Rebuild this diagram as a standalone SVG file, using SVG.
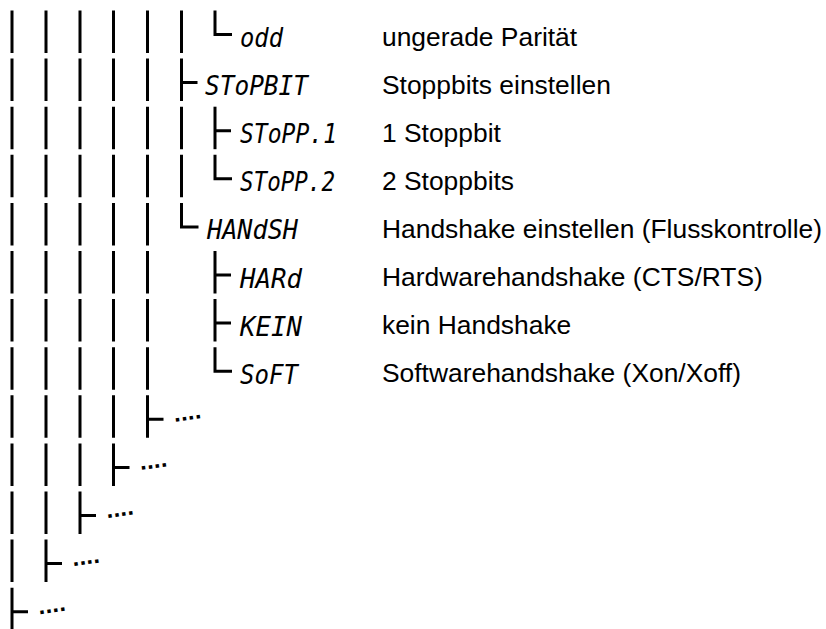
<svg xmlns="http://www.w3.org/2000/svg" width="826" height="629" viewBox="0 0 826 629">
<style>
.ln{stroke:#000;stroke-width:3;fill:none;stroke-linecap:butt;stroke-linejoin:miter}
.col{stroke-dasharray:42.5 5.6}
.seg{font-family:"DejaVu Sans Mono",monospace;font-style:oblique;font-size:27px;fill:#000}
.desc{font-family:"Liberation Sans",Arial,sans-serif;font-size:26.4px;fill:#000}
.dots{font-family:"Liberation Sans",Arial,sans-serif;font-weight:bold;font-size:24px;letter-spacing:0.3px;fill:#000}
</style>
<rect width="826" height="629" fill="#fff"/>
<g id="connectors">
<line class="ln col" x1="12" y1="10.5" x2="12" y2="630.2"/>
<line class="ln col" x1="46" y1="10.5" x2="46" y2="582.1"/>
<line class="ln col" x1="80" y1="10.5" x2="80" y2="534"/>
<line class="ln col" x1="113.5" y1="10.5" x2="113.5" y2="485.9"/>
<line class="ln col" x1="147.5" y1="10.5" x2="147.5" y2="437.8"/>
<line class="ln col" x1="181.5" y1="10.5" x2="181.5" y2="197.3"/>
<path class="ln" d="M181.5 202.9V226.9H198.5"/>
<path class="ln" d="M215 10.5V34.5H232"/>
<path class="ln" d="M215 106.7V149.2"/>
<path class="ln" d="M215 154.8V178.8H232"/>
<path class="ln" d="M215 251V293.5M215 299.1V341.6"/>
<path class="ln" d="M215 347.2V371.2H232"/>
<path class="ln" d="M181.5 82.6H197.5M215 130.7H231M215 275H231M215 323.1H231M147.5 419.3H163.5M113.5 467.4H129.5M80 515.5H96M46 563.6H62M12 611.7H28"/>
</g>
<g id="node-odd"><text class="seg" x="240" y="47" textLength="43" lengthAdjust="spacingAndGlyphs">odd</text><text class="desc" x="382" y="45.5">ungerade Parität</text></g>
<g id="node-stopbit"><text class="seg" x="205" y="95.1" textLength="103" lengthAdjust="spacingAndGlyphs">SToPBIT</text><text class="desc" x="382" y="93.6">Stoppbits einstellen</text></g>
<g id="node-stopp1"><text class="seg" x="240" y="143.2" textLength="97" lengthAdjust="spacingAndGlyphs">SToPP.1</text><text class="desc" x="382" y="141.7">1 Stoppbit</text></g>
<g id="node-stopp2"><text class="seg" x="240" y="191.3" textLength="95" lengthAdjust="spacingAndGlyphs">SToPP.2</text><text class="desc" x="382" y="189.8">2 Stoppbits</text></g>
<g id="node-handsh"><text class="seg" x="207" y="239.4" textLength="91" lengthAdjust="spacingAndGlyphs">HANdSH</text><text class="desc" x="382" y="237.9">Handshake einstellen (Flusskontrolle)</text></g>
<g id="node-hard"><text class="seg" x="240" y="287.5" textLength="62" lengthAdjust="spacingAndGlyphs">HARd</text><text class="desc" x="382" y="286">Hardwarehandshake (CTS/RTS)</text></g>
<g id="node-kein"><text class="seg" x="240" y="335.6" textLength="62" lengthAdjust="spacingAndGlyphs">KEIN</text><text class="desc" x="382" y="334.1">kein Handshake</text></g>
<g id="node-soft"><text class="seg" x="240" y="383.7" textLength="58" lengthAdjust="spacingAndGlyphs">SoFT</text><text class="desc" x="382" y="382.2">Softwarehandshake (Xon/Xoff)</text></g>
<g id="node-more4"><text class="dots" transform="translate(174.5 422) rotate(-8)">....</text></g>
<g id="node-more3"><text class="dots" transform="translate(140.5 470.1) rotate(-8)">....</text></g>
<g id="node-more2"><text class="dots" transform="translate(107 518.2) rotate(-8)">....</text></g>
<g id="node-more1"><text class="dots" transform="translate(73 566.3) rotate(-8)">....</text></g>
<g id="node-more0"><text class="dots" transform="translate(39 614.4) rotate(-8)">....</text></g>
</svg>
